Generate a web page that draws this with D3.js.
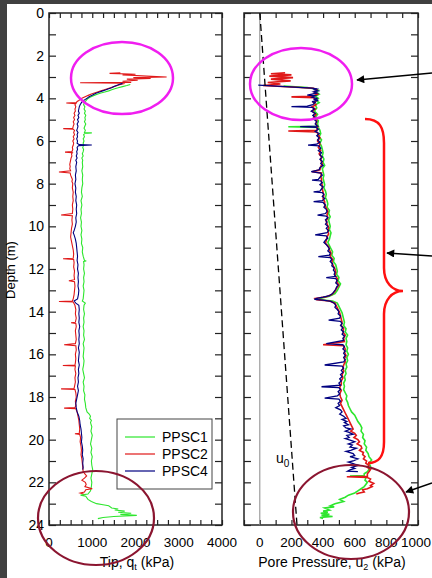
<!DOCTYPE html>
<html>
<head>
<meta charset="utf-8">
<script src="https://cdn.jsdelivr.net/npm/d3@7"></script>
<style>
  body { margin: 0; background: #fff; }
  svg { display: block; font-family: "Liberation Sans", Arial, sans-serif; }
</style>
</head>
<body>
<div id="chart"></div>
<script>

// depth ticks and x ticks
var depthLabels = [0, 2, 4, 6, 8, 10, 12, 14, 16, 18, 20, 22, 24];
var tipLabels = [0, 1000, 2000, 3000, 4000];
var poreLabels = [0, 200, 400, 600, 800, 1000];
var seriesNames = ["PPSC1", "PPSC2", "PPSC4"];
var seriesColors = ["#2ee62e", "#e01818", "#000080"];

// tip resistance qt (kPa) : [depth, value]
var tipPPSC1 = [[3.35,1880],[3.4,1800],[3.45,1700],[3.5,1600],[3.55,1520],[3.6,1450],[3.65,1380],[3.7,1290],[3.75,1200],[3.8,1130],[3.85,1060],[3.9,1000],[3.95,950],[4.0,910],[4.05,880],[4.1,860],[4.2,820],[4.3,800],[4.4,830],[4.5,810],[4.6,840],[4.7,820],[4.8,850],[4.9,830],[5.0,840],[5.1,820],[5.2,850],[5.3,830],[5.4,810],[5.5,840],[5.6,820],[5.62,990],[5.65,830],[5.7,800],[5.8,820],[5.9,790],[6.0,810],[6.1,790],[6.2,800],[6.3,780],[6.4,800],[6.5,790],[6.6,770],[6.7,790],[6.8,760],[6.9,780],[7.0,770],[7.2,780],[7.4,760],[7.6,780],[7.8,770],[8.0,780],[8.2,760],[8.4,750],[8.6,770],[8.8,740],[9.0,760],[9.2,740],[9.4,750],[9.6,730],[9.8,750],[10.0,740],[10.2,760],[10.4,740],[10.6,760],[10.8,750],[11.0,780],[11.2,770],[11.4,790],[11.6,820],[11.62,860],[11.65,800],[11.8,810],[12.0,800],[12.2,820],[12.4,800],[12.6,810],[12.8,790],[13.0,810],[13.2,800],[13.4,790],[13.5,770],[13.6,840],[13.7,810],[13.9,800],[14.1,820],[14.3,800],[14.5,810],[14.7,790],[14.9,810],[15.1,800],[15.3,820],[15.5,790],[15.7,810],[15.9,800],[16.1,790],[16.3,810],[16.5,800],[16.7,780],[16.9,800],[17.1,820],[17.3,790],[17.5,810],[17.7,800],[17.9,830],[18.1,820],[18.3,840],[18.5,850],[18.7,880],[18.8,930],[18.9,960],[19.0,940],[19.1,980],[19.2,960],[19.4,990],[19.6,970],[19.8,1000],[20.0,980],[20.2,960],[20.4,990],[20.6,970],[20.8,1000],[21.0,980],[21.2,990],[21.4,1010],[21.6,990],[21.8,970],[22.0,990],[22.2,980],[22.4,960],[22.55,900],[22.6,730],[22.65,850],[22.8,900],[22.9,980],[23.0,1100],[23.05,1250],[23.1,1380],[23.2,1450],[23.25,1600],[23.3,1520],[23.35,1750],[23.4,1600],[23.45,1900],[23.5,1650],[23.55,2030],[23.6,1500],[23.65,1250],[23.7,1130]];

var tipPPSC2 = [[2.8,1650],[2.83,1400],[2.87,2000],[2.9,1700],[2.95,2250],[3.0,2720],[3.03,1950],[3.07,2350],[3.1,1800],[3.15,2050],[3.2,1700],[3.25,1900],[3.27,720],[3.3,1750],[3.35,1650],[3.4,1580],[3.45,1500],[3.5,1420],[3.55,1350],[3.6,1280],[3.65,1200],[3.7,1120],[3.75,1050],[3.8,980],[3.85,920],[3.9,860],[3.95,810],[4.0,760],[4.05,720],[4.1,690],[4.15,650],[4.2,630],[4.22,400],[4.25,620],[4.3,600],[4.4,620],[4.5,600],[4.6,610],[4.7,580],[4.8,600],[4.9,570],[5.0,590],[5.1,560],[5.2,580],[5.3,560],[5.4,550],[5.42,330],[5.45,560],[5.5,590],[5.6,570],[5.7,590],[5.8,560],[5.9,580],[6.0,550],[6.1,570],[6.2,560],[6.3,540],[6.4,550],[6.5,530],[6.52,370],[6.55,540],[6.6,520],[6.7,530],[6.8,510],[6.9,500],[7.0,490],[7.1,480],[7.2,490],[7.3,480],[7.4,500],[7.45,230],[7.5,490],[7.6,500],[7.7,520],[7.8,540],[7.9,530],[8.0,550],[8.2,540],[8.4,560],[8.6,550],[8.8,560],[9.0,540],[9.2,550],[9.4,540],[9.47,280],[9.5,540],[9.7,530],[9.9,540],[10.1,520],[10.3,510],[10.5,500],[10.7,520],[10.9,540],[11.1,560],[11.3,570],[11.5,560],[11.52,325],[11.55,570],[11.7,580],[11.9,570],[12.1,590],[12.3,580],[12.5,590],[12.55,460],[12.6,590],[12.8,600],[13.0,590],[13.2,580],[13.4,560],[13.5,540],[13.52,230],[13.55,560],[13.7,600],[13.9,620],[14.1,610],[14.3,630],[14.5,610],[14.52,510],[14.55,620],[14.7,630],[14.9,610],[15.1,620],[15.3,630],[15.5,610],[15.55,350],[15.6,620],[15.8,630],[16.0,610],[16.2,620],[16.4,610],[16.5,600],[16.52,320],[16.55,610],[16.7,600],[16.9,620],[17.1,600],[17.3,610],[17.5,590],[17.6,580],[17.62,280],[17.65,600],[17.8,620],[18.0,630],[18.2,610],[18.4,620],[18.5,600],[18.52,350],[18.55,620],[18.7,650],[18.9,670],[19.1,690],[19.3,700],[19.5,710],[19.7,700],[19.72,600],[19.75,710],[19.9,730],[20.1,720],[20.3,740],[20.5,750],[20.7,740],[20.9,760],[21.1,770],[21.3,780],[21.5,790],[21.6,830],[21.7,870],[21.8,820],[21.9,760],[22.0,840],[22.1,860],[22.2,830],[22.3,1000],[22.35,850],[22.45,820],[22.5,720],[22.55,800]];

var tipPPSC4 = [[3.3,1700],[3.35,1620],[3.4,1560],[3.45,1500],[3.5,1450],[3.55,1380],[3.6,1320],[3.65,1240],[3.7,1170],[3.75,1100],[3.8,1050],[3.85,1000],[3.9,950],[3.95,910],[4.0,880],[4.05,840],[4.1,800],[4.15,770],[4.2,750],[4.3,720],[4.4,700],[4.5,690],[4.6,680],[4.7,700],[4.8,670],[4.9,690],[5.0,660],[5.1,680],[5.2,650],[5.3,670],[5.4,660],[5.5,640],[5.6,670],[5.7,650],[5.8,660],[5.9,640],[6.0,660],[6.1,650],[6.17,700],[6.19,990],[6.22,680],[6.3,650],[6.4,660],[6.5,640],[6.6,650],[6.7,630],[6.8,650],[6.9,620],[7.0,640],[7.2,620],[7.4,630],[7.6,610],[7.8,620],[8.0,600],[8.2,620],[8.4,610],[8.6,630],[8.8,620],[9.0,640],[9.2,630],[9.4,640],[9.6,620],[9.8,630],[10.0,610],[10.2,580],[10.3,560],[10.4,580],[10.6,610],[10.8,630],[11.0,640],[11.2,650],[11.4,660],[11.6,650],[11.8,670],[12.0,660],[12.2,680],[12.4,670],[12.6,680],[12.8,670],[13.0,690],[13.2,680],[13.4,660],[13.5,580],[13.6,620],[13.7,690],[13.9,700],[14.1,690],[14.3,700],[14.5,690],[14.7,710],[14.9,690],[15.1,700],[15.3,690],[15.5,700],[15.7,680],[15.9,700],[16.1,690],[16.3,680],[16.5,700],[16.7,680],[16.9,690],[17.1,670],[17.3,680],[17.5,660],[17.7,680],[17.9,660],[18.1,640],[18.3,620],[18.5,630],[18.7,650],[18.9,690],[19.1,710],[19.3,720],[19.5,740],[19.7,750],[19.9,760],[20.1,750],[20.3,770],[20.5,780],[20.7,770],[20.9,790],[21.1,780],[21.3,790],[21.4,780]];

// pore pressure u2 (kPa) : [depth, value]
var porePPSC1 = [[3.42,150],[3.5,300],[3.55,345],[3.62,370],[3.7,355],[3.8,375],[3.9,350],[4.0,370],[4.1,355],[4.2,375],[4.3,350],[4.45,360],[4.6,345],[4.75,365],[4.9,350],[5.05,370],[5.2,365],[5.31,370],[5.33,180],[5.36,370],[5.5,380],[5.65,385],[5.8,375],[5.95,390],[6.1,380],[6.25,390],[6.4,395],[6.55,400],[6.7,395],[6.85,405],[7.0,400],[7.15,410],[7.3,395],[7.45,400],[7.6,405],[7.75,400],[7.9,405],[8.05,410],[8.2,405],[8.35,415],[8.5,420],[8.65,415],[8.8,425],[8.95,430],[9.1,425],[9.25,440],[9.4,435],[9.55,445],[9.7,435],[9.85,440],[10.0,445],[10.15,440],[10.3,450],[10.45,445],[10.6,440],[10.75,430],[10.9,440],[11.05,450],[11.2,460],[11.35,455],[11.5,470],[11.65,465],[11.8,480],[11.95,485],[12.1,490],[12.25,485],[12.4,500],[12.55,495],[12.7,510],[12.85,500],[13.0,490],[13.15,475],[13.28,440],[13.38,380],[13.44,380],[13.5,460],[13.6,490],[13.75,500],[13.9,510],[14.05,520],[14.2,525],[14.35,530],[14.5,535],[14.65,530],[14.8,545],[14.95,540],[15.1,555],[15.25,545],[15.4,550],[15.55,545],[15.7,555],[15.85,550],[16.0,560],[16.15,550],[16.3,555],[16.45,545],[16.6,550],[16.75,540],[16.9,545],[17.05,535],[17.2,540],[17.35,530],[17.5,535],[17.65,530],[17.8,540],[17.95,550],[18.1,545],[18.25,555],[18.4,560],[18.55,570],[18.7,580],[18.85,600],[19.0,610],[19.15,620],[19.3,635],[19.45,645],[19.6,640],[19.75,655],[19.9,650],[20.05,665],[20.2,660],[20.35,675],[20.5,670],[20.65,685],[20.8,690],[20.95,707],[21.1,690],[21.25,700],[21.4,690],[21.5,680],[21.6,660],[21.68,660],[21.7,570],[21.73,660],[21.8,670],[21.9,665],[22.0,680],[22.1,670],[22.2,660],[22.3,640],[22.4,620],[22.5,600],[22.6,560],[22.7,540],[22.8,505],[22.9,530],[23.0,475],[23.1,445],[23.15,470],[23.2,410],[23.3,440],[23.35,400],[23.4,430],[23.45,385],[23.5,440],[23.55,390],[23.6,460],[23.65,380],[23.7,400]];

var porePPSC2 = [[2.8,160],[2.85,70],[2.9,200],[2.96,60],[3.03,210],[3.1,70],[3.18,195],[3.26,50],[3.33,130],[3.4,20],[3.47,200],[3.53,340],[3.6,360],[3.7,345],[3.8,365],[3.9,335],[3.93,200],[3.97,340],[4.1,360],[4.2,340],[4.3,355],[4.4,330],[4.5,350],[4.6,330],[4.75,355],[4.9,340],[5.05,360],[5.2,355],[5.35,365],[5.5,360],[5.53,180],[5.57,360],[5.7,370],[5.85,380],[6.0,365],[6.15,380],[6.3,370],[6.45,385],[6.6,375],[6.75,390],[6.9,385],[7.05,395],[7.2,385],[7.35,380],[7.44,330],[7.5,390],[7.65,385],[7.8,390],[7.95,390],[8.1,395],[8.25,395],[8.4,400],[8.55,405],[8.7,400],[8.85,410],[9.0,410],[9.15,420],[9.3,430],[9.45,425],[9.6,430],[9.75,420],[9.9,425],[10.05,435],[10.2,430],[10.35,435],[10.5,425],[10.65,420],[10.8,415],[10.95,435],[11.1,440],[11.25,450],[11.4,445],[11.55,460],[11.7,455],[11.85,465],[12.0,475],[12.15,480],[12.3,475],[12.45,490],[12.6,485],[12.75,500],[12.9,485],[13.05,475],[13.2,455],[13.3,420],[13.38,350],[13.44,360],[13.5,440],[13.6,475],[13.75,485],[13.9,495],[14.05,505],[14.2,510],[14.35,515],[14.5,520],[14.65,515],[14.8,530],[14.95,525],[15.1,540],[15.25,530],[15.4,535],[15.55,400],[15.6,530],[15.75,540],[15.9,535],[16.05,545],[16.2,535],[16.35,540],[16.5,530],[16.65,525],[16.8,530],[16.95,520],[17.1,525],[17.25,515],[17.4,515],[17.55,505],[17.7,515],[17.85,505],[18.0,510],[18.15,520],[18.3,510],[18.45,520],[18.6,530],[18.75,540],[18.9,550],[19.05,560],[19.2,570],[19.35,580],[19.5,590],[19.6,575],[19.7,600],[19.8,610],[19.9,595],[20.0,620],[20.1,630],[20.2,615],[20.3,640],[20.4,645],[20.5,630],[20.6,655],[20.7,650],[20.8,665],[20.9,655],[21.0,675],[21.1,670],[21.2,690],[21.3,680],[21.4,700],[21.5,690],[21.6,680],[21.72,680],[21.74,550],[21.77,680],[21.85,700],[21.95,690],[22.05,720],[22.15,700],[22.2,710],[22.3,680],[22.35,650],[22.45,660],[22.5,630],[22.55,610]];

var porePPSC4 = [[3.38,-10],[3.45,160],[3.52,330],[3.56,360],[3.6,345],[3.65,368],[3.7,340],[3.75,360],[3.8,330],[3.85,300],[3.88,350],[3.95,330],[4.0,365],[4.05,340],[4.1,370],[4.15,330],[4.2,350],[4.3,335],[4.37,300],[4.39,200],[4.42,330],[4.5,345],[4.6,325],[4.7,350],[4.8,335],[4.9,350],[5.0,345],[5.1,360],[5.2,350],[5.3,365],[5.33,255],[5.36,355],[5.45,370],[5.55,350],[5.65,375],[5.75,360],[5.85,375],[5.95,365],[6.05,380],[6.15,360],[6.19,305],[6.23,375],[6.35,385],[6.45,370],[6.55,390],[6.65,380],[6.75,395],[6.85,380],[6.95,395],[7.05,385],[7.15,400],[7.25,380],[7.35,375],[7.44,325],[7.5,385],[7.6,395],[7.7,380],[7.8,370],[7.83,330],[7.87,385],[7.95,395],[8.05,380],[8.15,400],[8.25,390],[8.35,380],[8.38,340],[8.42,395],[8.5,405],[8.6,395],[8.7,410],[8.8,395],[8.84,340],[8.88,400],[9.0,415],[9.1,405],[9.2,420],[9.3,425],[9.4,415],[9.47,365],[9.52,420],[9.6,430],[9.7,415],[9.8,425],[9.9,415],[10.0,430],[10.1,420],[10.2,435],[10.3,425],[10.4,350],[10.45,420],[10.55,430],[10.65,415],[10.75,405],[10.85,420],[10.95,430],[11.05,440],[11.15,430],[11.25,445],[11.35,440],[11.42,370],[11.46,445],[11.55,455],[11.65,445],[11.75,460],[11.85,455],[11.95,470],[12.05,465],[12.15,475],[12.25,470],[12.35,480],[12.4,420],[12.45,480],[12.55,490],[12.65,480],[12.75,495],[12.85,485],[12.95,480],[13.05,470],[13.15,460],[13.25,440],[13.32,400],[13.38,360],[13.42,345],[13.46,400],[13.52,450],[13.6,470],[13.7,480],[13.8,475],[13.9,490],[14.0,500],[14.1,495],[14.2,510],[14.3,505],[14.4,435],[14.45,510],[14.55,520],[14.65,510],[14.75,525],[14.85,515],[14.95,530],[15.05,520],[15.15,535],[15.25,525],[15.35,530],[15.5,420],[15.55,525],[15.65,535],[15.75,525],[15.85,540],[15.95,530],[16.05,540],[16.15,530],[16.25,540],[16.35,530],[16.5,410],[16.55,520],[16.65,530],[16.75,515],[16.85,525],[16.95,510],[17.05,520],[17.15,505],[17.25,515],[17.35,500],[17.45,510],[17.52,390],[17.56,500],[17.65,510],[17.75,495],[17.85,505],[17.95,490],[18.05,410],[18.1,500],[18.2,510],[18.3,495],[18.4,505],[18.5,480],[18.6,510],[18.7,520],[18.8,505],[18.9,530],[19.0,545],[19.05,520],[19.15,550],[19.2,535],[19.3,560],[19.35,530],[19.45,545],[19.5,575],[19.6,540],[19.65,560],[19.75,590],[19.8,550],[19.9,565],[19.95,540],[20.05,580],[20.1,600],[20.2,560],[20.25,585],[20.35,570],[20.4,610],[20.5,575],[20.55,545],[20.65,590],[20.75,600],[20.8,570],[20.9,620],[21.0,590],[21.05,560],[21.15,600],[21.2,625],[21.3,580],[21.35,600],[21.42,570],[21.48,555],[21.5,620]];

// hydrostatic u0 line
var u0Line = [[0, 0], [24, 235]];

var tipSeries = [tipPPSC1, tipPPSC2, tipPPSC4];
var poreSeries = [porePPSC1, porePPSC2, porePPSC4];


// svg container
var svgWidth = 432;
var svgHeight = 578;

var svg = d3.select("#chart")
  .append("svg")
  .attr("width", svgWidth)
  .attr("height", svgHeight);

// dark screenshot border
svg.append("rect").attr("x", 0).attr("y", 0).attr("width", svgWidth).attr("height", 4).attr("fill", "#404040");
svg.append("rect").attr("x", 0).attr("y", 0).attr("width", 7).attr("height", svgHeight).attr("fill", "#404040");

// scales
var yScale = d3.scaleLinear().domain([0, 24]).range([13, 525]);
var xTip = d3.scaleLinear().domain([0, 4000]).range([49, 222]);
var xPore = d3.scaleLinear().domain([-100, 1000]).range([244, 418]);


////////////// frames & ticks //////////////////

function drawFrame(xs, xTickStep, labels, showDepth) {
  var x0 = xs.range()[0], x1 = xs.range()[1];
  var y0 = yScale.range()[0], y1 = yScale.range()[1];
  var g = svg.append("g");

  // inward ticks on all four sides
  var xt = d3.range(xs.domain()[0], xs.domain()[1] + 1, xTickStep);
  g.append("g")
    .attr("transform", `translate(0, ${y1})`)
    .call(d3.axisBottom(xs).tickValues(xt).tickSize(-5).tickFormat(""));
  g.append("g")
    .attr("transform", `translate(0, ${y0})`)
    .call(d3.axisTop(xs).tickValues(xt).tickSize(-5).tickFormat(""));
  g.append("g")
    .attr("transform", `translate(${x0}, 0)`)
    .call(d3.axisLeft(yScale).tickValues(d3.range(0, 25)).tickSize(-7).tickFormat(""));
  g.append("g")
    .attr("transform", `translate(${x1}, 0)`)
    .call(d3.axisRight(yScale).tickValues(d3.range(0, 25)).tickSize(-7).tickFormat(""));

  g.selectAll(".domain").remove();
  g.selectAll(".tick line").attr("stroke", "#222").attr("stroke-width", 1.2);

  g.append("rect")
    .attr("x", x0).attr("y", y0)
    .attr("width", x1 - x0).attr("height", y1 - y0)
    .attr("fill", "none").attr("stroke", "#222").attr("stroke-width", 1.5);

  // x labels (last one kept inside the page)
  g.selectAll("text.xl")
    .data(labels)
    .enter().append("text")
    .attr("x", d => Math.min(xs(d), svgWidth - 16))
    .attr("y", 547)
    .attr("text-anchor", "middle")
    .attr("font-size", 13.5)
    .text(d => d);

  if (showDepth) {
    g.selectAll("text.yl")
      .data(depthLabels)
      .enter().append("text")
      .attr("x", 44)
      .attr("y", d => yScale(d) + 5)
      .attr("text-anchor", "end")
      .attr("font-size", 14)
      .text(d => d);
  }
}

drawFrame(xTip, 250, tipLabels, true);
drawFrame(xPore, 100, poreLabels, false);

// zero line in pore pressure panel
svg.append("line")
  .attr("x1", xPore(0)).attr("x2", xPore(0))
  .attr("y1", yScale(0)).attr("y2", yScale(24))
  .attr("stroke", "#888").attr("stroke-width", 1);


////////////// traces //////////////////

var tipLine = d3.line().x(d => xTip(d[1])).y(d => yScale(d[0]));
var poreLine = d3.line().x(d => xPore(d[1])).y(d => yScale(d[0]));

tipSeries.forEach(function(s, i) {
  svg.append("path")
    .attr("d", tipLine(s))
    .attr("fill", "none")
    .attr("stroke", seriesColors[i])
    .attr("stroke-width", 1.1);
});

poreSeries.forEach(function(s, i) {
  svg.append("path")
    .attr("d", poreLine(s))
    .attr("fill", "none")
    .attr("stroke", seriesColors[i])
    .attr("stroke-width", i == 2 ? 1.3 : 1.6);
});

// u0 dashed
svg.append("path")
  .attr("d", poreLine(u0Line))
  .attr("fill", "none")
  .attr("stroke", "#000")
  .attr("stroke-width", 1.3)
  .attr("stroke-dasharray", "7,4");

var u0Text = svg.append("text")
  .attr("x", 276).attr("y", 463)
  .attr("font-size", 14);
u0Text.append("tspan").text("u");
u0Text.append("tspan").attr("font-size", 10).attr("dy", 4).text("0");


////////////// legend //////////////////

var legend = svg.append("g");
legend.append("rect")
  .attr("x", 117).attr("y", 419)
  .attr("width", 95).attr("height", 70)
  .attr("fill", "#fff").attr("stroke", "#444").attr("stroke-width", 1);

seriesNames.forEach(function(name, i) {
  var ly = 437 + i * 17;
  legend.append("line")
    .attr("x1", 125).attr("x2", 155)
    .attr("y1", ly).attr("y2", ly)
    .attr("stroke", seriesColors[i]).attr("stroke-width", 1.2);
  legend.append("text")
    .attr("x", 162).attr("y", ly + 5)
    .attr("font-size", 14)
    .text(name);
});


////////////// axis titles //////////////////

svg.append("text")
  .attr("transform", "translate(15, 270) rotate(-90)")
  .attr("text-anchor", "middle")
  .attr("font-size", 13)
  .text("Depth (m)");

var tipTitle = svg.append("text")
  .attr("x", 137).attr("y", 567)
  .attr("text-anchor", "middle")
  .attr("font-size", 14);
tipTitle.append("tspan").text("Tip, q");
tipTitle.append("tspan").attr("font-size", 9).attr("dy", 3).text("t");
tipTitle.append("tspan").attr("dy", -3).text(" (kPa)");

var poreTitle = svg.append("text")
  .attr("x", 332).attr("y", 567)
  .attr("text-anchor", "middle")
  .attr("font-size", 14);
poreTitle.append("tspan").text("Pore Pressure, u");
poreTitle.append("tspan").attr("font-size", 9).attr("dy", 3).text("2");
poreTitle.append("tspan").attr("dy", -3).text(" (kPa)");


////////////// annotations //////////////////

var ann = svg.append("g");

// magenta ellipses
[[122, 78], [301, 84]].forEach(function(c) {
  ann.append("ellipse")
    .attr("cx", c[0]).attr("cy", c[1])
    .attr("rx", 51).attr("ry", 36)
    .attr("fill", "none").attr("stroke", "#f01ef0").attr("stroke-width", 2.5);
});

// dark red ellipses
[[96, 518], [351, 512]].forEach(function(c) {
  ann.append("ellipse")
    .attr("cx", c[0]).attr("cy", c[1])
    .attr("rx", 58).attr("ry", 47)
    .attr("fill", "none").attr("stroke", "#8b1530").attr("stroke-width", 2.2);
});

// red brace
ann.append("path")
  .attr("d", "M365,119 C380,119 384,128 384,143 L384,268 C384,282 392,291 403,291 C392,291 384,300 384,314 L384,442 C384,455 380,463 368,463")
  .attr("fill", "none").attr("stroke", "#ff1010").attr("stroke-width", 2.5);

// arrows
svg.append("defs").append("marker")
  .attr("id", "head")
  .attr("viewBox", "0 0 10 10")
  .attr("refX", 9).attr("refY", 5)
  .attr("markerWidth", 10).attr("markerHeight", 8)
  .attr("markerUnits", "userSpaceOnUse")
  .attr("orient", "auto")
  .append("path")
  .attr("d", "M0,0 L10,5 L0,10 Z")
  .attr("fill", "#000");

[[432, 73, 357, 80], [432, 256, 387, 253], [432, 483, 406, 492]].forEach(function(a) {
  ann.append("line")
    .attr("x1", a[0]).attr("y1", a[1])
    .attr("x2", a[2]).attr("y2", a[3])
    .attr("stroke", "#000").attr("stroke-width", 1.5)
    .attr("marker-end", "url(#head)");
});

</script>
</body>
</html>
